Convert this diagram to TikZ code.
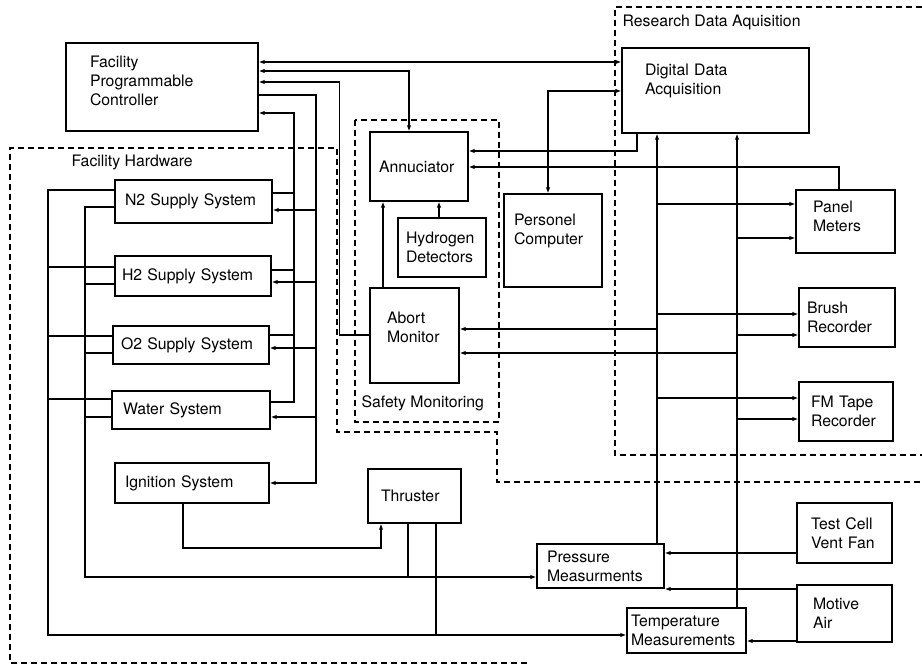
\documentclass[tikz,border=0pt]{standalone}
\usepackage{fontspec}
\setmainfont{TeX Gyre Heros}
\usetikzlibrary{arrows.meta}

\newcommand{\lift}[1]{\rule[-#1]{0pt}{#1}}

\tikzset{
	blk/.style={draw, line width=1.3pt, align=left, inner ysep=0pt},
	grp/.style={dash pattern=on 6pt off 4pt, line width=1.1pt},
	lbl/.style={anchor=west, inner sep=0pt}
}

\begin{document}
\begin{tikzpicture}[x=1pt, y=-1pt, line width=1.25pt, >={Latex[length=6pt,width=4.5pt]},
	font=\fontsize{15.8}{19}\selectfont]
	\useasboundingbox (0,0) rectangle (922,666);
	
	% controller and systems
	\node[blk, minimum width=192pt, minimum height=88pt, text width=144pt, inner xsep=24pt] (fpc) at (162,87) {Facility\\Programmable\\Controller\lift{12pt}};
	\node[blk, minimum width=157pt, minimum height=43pt, text width=137pt, inner xsep=10pt] (n2) at (193.5,201.5) {N2 Supply System};
	\node[blk, minimum width=156pt, minimum height=40pt, text width=142pt, inner xsep=7pt] (h2) at (193,276) {H2 Supply System};
	\node[blk, minimum width=156pt, minimum height=38pt, text width=140pt, inner xsep=8pt] (o2) at (191,345) {O2 Supply System};
	\node[blk, minimum width=158pt, minimum height=38pt, text width=136pt, inner xsep=11pt] (water) at (191,410) {Water System};
	\node[blk, minimum width=154pt, minimum height=40pt, text width=134pt, inner xsep=10pt] (ign) at (192,483) {Ignition System};
	\node[blk, minimum width=93pt, minimum height=54pt, text width=67pt, inner xsep=13pt] (thr) at (414.5,496) {Thruster};
	
	% safety monitoring
	\node[blk, minimum width=98pt, minimum height=69pt, text width=80pt, inner xsep=9pt] (ann) at (419,166.5) {Annuciator};
	\node[blk, minimum width=88pt, minimum height=59pt, text width=72pt, inner xsep=8pt] (hd) at (442,247.5) {Hydrogen\\Detectors};
	\node[blk, minimum width=89pt, minimum height=95pt, text width=55pt, inner xsep=17pt] (abort) at (414.5,335.5) {Abort\\Monitor\lift{16pt}};
	\node[blk, minimum width=98pt, minimum height=93pt, text width=78pt, inner xsep=10pt] (pc) at (553,240.5) {Personel\\Computer\lift{22pt}};
	
	% research data
	\node[blk, minimum width=187pt, minimum height=85pt, text width=141pt, inner xsep=23pt] (dda) at (715.5,90.5) {Digital Data\\Acquisition\lift{22pt}};
	\node[blk, minimum width=99pt, minimum height=63pt, text width=65pt, inner xsep=17pt] (panel) at (845.5,221.5) {Panel\\Meters\lift{10pt}};
	\node[blk, minimum width=96pt, minimum height=59pt, text width=80pt, inner xsep=8pt] (brush) at (847,317.5) {Brush\\Recorder};
	\node[blk, minimum width=94pt, minimum height=59pt, text width=70pt, inner xsep=12pt] (fm) at (846,411.5) {FM Tape\\Recorder};
	
	% measurements
	\node[blk, minimum width=127pt, minimum height=44pt, text width=107pt, inner xsep=10pt] (press) at (600.5,566) {Pressure\\Measurments};
	\node[blk, minimum width=119pt, minimum height=45pt, text width=111pt, inner xsep=4pt] (temp) at (686.5,630.5) {Temperature\\Measurements};
	\node[blk, minimum width=95pt, minimum height=60pt, text width=67pt, inner xsep=14pt] (tcvf) at (844.5,533) {Test Cell\\Vent Fan};
	\node[blk, minimum width=95pt, minimum height=57pt, text width=63pt, inner xsep=16pt] (motive) at (844.5,613.5) {Motive\\Air};
	
	% group frames
	\draw[grp] (527,663) -- (10,663) -- (10,148) -- (337,148) -- (337,432) -- (497,432) -- (497,482) -- (922,482);
	\draw[grp] (355,120) rectangle (499,422);
	\draw[grp] (922,7) -- (615,7) -- (615,455) -- (922,455);
	\node[lbl] (fhlbl) at (71,162) {Facility Hardware};
	\node[lbl] (smlbl) at (361,403) {Safety Monitoring};
	\node[lbl] (rdlbl) at (622,22) {Research Data Aquisition};
	
	% bus lines
	\coordinate (ctlbus) at (316,0);
	\coordinate (statbus) at (294,0);
	\coordinate (lbusa) at (48,0);
	\coordinate (lbusb) at (85,0);
	\coordinate (pbus) at (657,0);
	\coordinate (tbus) at (737,0);
	
	% controller links
	\draw[<->] (fpc.east |- 0,62) -- (dda.west |- 0,62);
	\draw[<->] (fpc.east |- 0,71) -| (ann.north -| 409,0);
	\draw[->] (abort.west |- 0,335) -- ++(-30,0) |- (fpc.east |- 0,82);
	\draw[->] (fpc.east |- 0,95) -| (ctlbus |- ign.east) -- (ign.east);
	\draw[->] (water.east |- 0,402) -| (statbus |- 0,113) -- (fpc.east |- 0,113);
	
	\draw[->] (ctlbus |- 0,210) -- (n2.east |- 0,210);
	\draw[->] (ctlbus |- 0,282) -- (h2.east |- 0,282);
	\draw[->] (ctlbus |- 0,348) -- (o2.east |- 0,348);
	\draw[->] (ctlbus |- 0,417) -- (water.east |- 0,417);
	\draw (n2.east |- 0,193) -- (statbus |- 0,193);
	\draw (h2.east |- 0,270) -- (statbus |- 0,270);
	\draw (o2.east |- 0,335) -- (statbus |- 0,335);
	
	% hardware to measurements
	\draw[->] (n2.west |- 0,190) -| (lbusa |- 0,635) -- (temp.west |- 0,635);
	\draw (h2.west |- 0,267) -- (lbusa |- 0,267);
	\draw (o2.west |- 0,336) -- (lbusa |- 0,336);
	\draw (water.west |- 0,399) -- (lbusa |- 0,399);
	\draw[->] (n2.west |- 0,207) -| (lbusb |- 0,577) -- (press.west |- 0,577);
	\draw (h2.west |- 0,284) -- (lbusb |- 0,284);
	\draw (o2.west |- 0,353) -- (lbusb |- 0,353);
	\draw (water.west |- 0,417) -- (lbusb |- 0,417);
	
	\draw[->] (ign.south -| 183,0) |- (381,548) -- (thr.south -| 381,0);
	\draw (thr.south -| 408,0) -- (408,577);
	\draw (thr.south -| 436,0) -- (436,635);
	
	\draw[->] (tcvf.west |- 0,553) -- (press.east |- 0,553);
	\draw[->] (motive.west |- 0,589) -- (press.east |- 0,589);
	\draw[->] (motive.west |- 0,641) -- (temp.east |- 0,641);
	
	% measurements to data acquisition
	\draw[->] (press.north -| pbus) -- (dda.south -| pbus);
	\draw[->] (temp.north -| tbus) -- (dda.south -| tbus);
	\draw[->] (pbus |- 0,204) -- (panel.west |- 0,204);
	\draw[->] (tbus |- 0,238) -- (panel.west |- 0,238);
	\draw[->] (pbus |- 0,314) -- (brush.west |- 0,314);
	\draw[->] (tbus |- 0,335) -- (brush.west |- 0,335);
	\draw[->] (pbus |- 0,398) -- (fm.west |- 0,398);
	\draw[->] (tbus |- 0,419) -- (fm.west |- 0,419);
	\draw[->] (pbus |- 0,329) -- (abort.east |- 0,329);
	\draw[->] (tbus |- 0,353) -- (abort.east |- 0,353);
	
	% annunciator inputs
	\draw[->] (dda.south -| 637,0) |- (ann.east |- 0,151);
	\draw[->] (panel.north -| 839,0) |- (ann.east |- 0,167);
	\draw[<->] (dda.west |- 0,91) -| (pc.north -| 548,0);
	\draw[->] (hd.north -| 439,0) -- (ann.south -| 439,0);
	\draw[->] (abort.north -| 383,0) -- (ann.south -| 383,0);
	
\end{tikzpicture}
\end{document}
